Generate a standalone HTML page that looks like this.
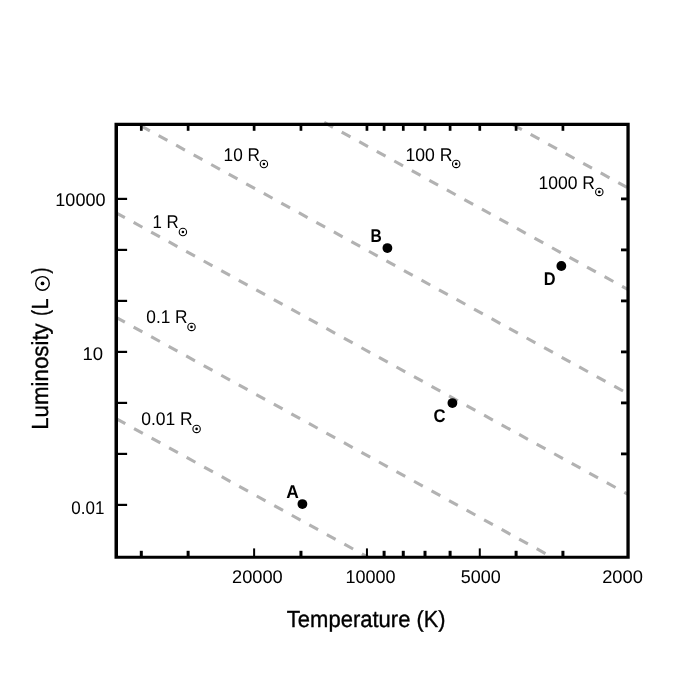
<!DOCTYPE html>
<html><head><meta charset="utf-8"><title>HR diagram</title>
<style>html,body{margin:0;padding:0;background:#fff;}body{width:700px;height:700px;overflow:hidden;}svg{display:block;will-change:transform;}text{font-family:"Liberation Sans",sans-serif;fill:#000;text-rendering:geometricPrecision;}</style>
</head><body>
<svg width="700" height="700" viewBox="0 0 700 700">
<rect width="700" height="700" fill="#fff"/>
<defs><clipPath id="c"><rect x="110.0" y="110.0" width="518.0" height="447.29999999999995"/></clipPath></defs>
<g clip-path="url(#c)" stroke="#b2b2b2" stroke-width="3.1" fill="none">
<line x1="513.10" y1="124.76" x2="669.70" y2="210.89" stroke-dasharray="10.0 10.0"/>
<line x1="324.20" y1="122.45" x2="669.70" y2="312.48" stroke-dasharray="10.0 10.0"/>
<line x1="141.10" y1="125.95" x2="669.70" y2="416.69" stroke-dasharray="10.0 10.0"/>
<line x1="116.10" y1="212.80" x2="669.70" y2="517.28" stroke-dasharray="10.0 10.0"/>
<line x1="116.10" y1="317.41" x2="669.70" y2="621.89" stroke-dasharray="10.0 10.0"/>
<line x1="116.55" y1="418.88" x2="669.70" y2="723.12" stroke-dasharray="10.0 10.0"/>
</g>
<g fill="#000">
<rect x="253.12" y="548.40" width="2.00" height="7.95"/>
<rect x="365.95" y="548.40" width="2.00" height="7.95"/>
<rect x="478.78" y="548.40" width="2.00" height="7.95"/>
<rect x="139.80" y="550.80" width="3.00" height="5.55"/>
<rect x="186.62" y="550.80" width="3.00" height="5.55"/>
<rect x="299.45" y="550.80" width="3.00" height="5.55"/>
<rect x="382.60" y="550.80" width="3.00" height="5.55"/>
<rect x="401.77" y="550.80" width="3.00" height="5.55"/>
<rect x="423.51" y="550.80" width="3.00" height="5.55"/>
<rect x="448.60" y="550.80" width="3.00" height="5.55"/>
<rect x="514.60" y="550.80" width="3.00" height="5.55"/>
<rect x="561.42" y="550.80" width="3.00" height="5.55"/>
<rect x="252.77" y="125.45" width="2.70" height="5.35"/>
<rect x="365.60" y="125.45" width="2.70" height="5.35"/>
<rect x="478.43" y="125.45" width="2.70" height="5.35"/>
<rect x="139.95" y="125.45" width="2.70" height="5.35"/>
<rect x="186.77" y="125.45" width="2.70" height="5.35"/>
<rect x="299.60" y="125.45" width="2.70" height="5.35"/>
<rect x="382.75" y="125.45" width="2.70" height="5.35"/>
<rect x="401.92" y="125.45" width="2.70" height="5.35"/>
<rect x="423.66" y="125.45" width="2.70" height="5.35"/>
<rect x="448.75" y="125.45" width="2.70" height="5.35"/>
<rect x="514.75" y="125.45" width="2.70" height="5.35"/>
<rect x="561.57" y="125.45" width="2.70" height="5.35"/>
<rect x="117.50" y="197.80" width="9.60" height="2.20"/>
<rect x="621.00" y="197.50" width="5.90" height="2.80"/>
<rect x="117.50" y="248.80" width="9.60" height="2.20"/>
<rect x="621.00" y="248.50" width="5.90" height="2.80"/>
<rect x="117.50" y="299.80" width="9.60" height="2.20"/>
<rect x="621.00" y="299.50" width="5.90" height="2.80"/>
<rect x="117.50" y="350.80" width="9.60" height="2.20"/>
<rect x="621.00" y="350.50" width="5.90" height="2.80"/>
<rect x="117.50" y="401.80" width="9.60" height="2.20"/>
<rect x="621.00" y="401.50" width="5.90" height="2.80"/>
<rect x="117.50" y="452.80" width="9.60" height="2.20"/>
<rect x="621.00" y="452.50" width="5.90" height="2.80"/>
<rect x="117.50" y="503.80" width="9.60" height="2.20"/>
<path fill-rule="evenodd" d="M114.5 122.85H629.7V558.8H114.5Z M118.0 125.95V555.85H626.4V125.95Z"/>
</g>
<circle cx="302.4" cy="504.05" r="4.9" fill="#000"/>
<text transform="translate(286.13,497.80) scale(0.9469,1)" font-size="18.4" font-weight="bold">A</text>
<circle cx="387.4" cy="248.05" r="4.9" fill="#000"/>
<text transform="translate(370.54,241.80) scale(0.8444,1)" font-size="18.4" font-weight="bold">B</text>
<circle cx="452.4" cy="403.05" r="4.9" fill="#000"/>
<text transform="translate(433.42,421.50) scale(0.9083,1)" font-size="18.4" font-weight="bold">C</text>
<circle cx="561.35" cy="266.0" r="4.9" fill="#000"/>
<text transform="translate(543.79,284.90) scale(0.8889,1)" font-size="18.4" font-weight="bold">D</text>
<text transform="translate(55.35,205.70) scale(0.9796,1)" font-size="18.4">10000</text>
<text transform="translate(82.42,359.80) scale(1.0068,1)" font-size="18.4">10</text>
<text transform="translate(71.31,514.00) scale(0.9231,1)" font-size="18.4">0.01</text>
<text transform="translate(232.03,582.80) scale(0.9899,1)" font-size="18.4">20000</text>
<text transform="translate(345.45,582.80) scale(0.9796,1)" font-size="18.4">10000</text>
<text transform="translate(460.77,582.80) scale(0.9747,1)" font-size="18.4">5000</text>
<text transform="translate(602.13,582.80) scale(0.9956,1)" font-size="18.4">2000</text>
<text transform="translate(223.62,160.80) scale(0.9338,1)" font-size="18.4">10 R</text>
<circle cx="263.90" cy="164.00" r="3.7" fill="none" stroke="#000" stroke-width="1.1"/><circle cx="263.90" cy="164.00" r="1.3" fill="#000"/>
<text transform="translate(405.49,160.80) scale(0.9561,1)" font-size="18.4">100 R</text>
<circle cx="456.20" cy="163.90" r="3.7" fill="none" stroke="#000" stroke-width="1.1"/><circle cx="456.20" cy="163.90" r="1.3" fill="#000"/>
<text transform="translate(538.59,188.90) scale(0.9509,1)" font-size="18.4">1000 R</text>
<circle cx="599.30" cy="191.90" r="3.7" fill="none" stroke="#000" stroke-width="1.1"/><circle cx="599.30" cy="191.90" r="1.3" fill="#000"/>
<text transform="translate(152.54,227.80) scale(0.9175,1)" font-size="18.4">1 R</text>
<circle cx="182.90" cy="232.00" r="3.7" fill="none" stroke="#000" stroke-width="1.1"/><circle cx="182.90" cy="232.00" r="1.3" fill="#000"/>
<text transform="translate(146.30,322.80) scale(0.9392,1)" font-size="18.4">0.1 R</text>
<circle cx="191.50" cy="326.90" r="3.7" fill="none" stroke="#000" stroke-width="1.1"/><circle cx="191.50" cy="326.90" r="1.3" fill="#000"/>
<text transform="translate(141.19,424.70) scale(0.9505,1)" font-size="18.4">0.01 R</text>
<circle cx="196.60" cy="428.90" r="3.7" fill="none" stroke="#000" stroke-width="1.1"/><circle cx="196.60" cy="428.90" r="1.3" fill="#000"/>
<text transform="translate(286.80,626.70) scale(0.9451,1)" font-size="23.3" stroke="#000" stroke-width="0.35">Temperature</text>
<text transform="translate(416.49,626.70) scale(0.9327,1)" font-size="23.3" stroke="#000" stroke-width="0.35">(K)</text>
<text transform="translate(48.20,429.82) rotate(-90) scale(0.9568,1)" font-size="23.3" stroke="#000" stroke-width="0.35">Luminosity</text>
<text transform="translate(48.20,315.85) rotate(-90) scale(0.7440,1)" font-size="23.3" stroke="#000" stroke-width="0.35">(</text>
<text transform="translate(48.20,309.29) rotate(-90) scale(0.8337,1)" font-size="23.3" stroke="#000" stroke-width="0.35">L</text>
<circle cx="42.50" cy="283.40" r="6.8" fill="none" stroke="#000" stroke-width="1.4"/><circle cx="42.50" cy="283.40" r="1.9" fill="#000"/>
<text transform="translate(48.20,273.62) rotate(-90) scale(0.7600,1)" font-size="23.3" stroke="#000" stroke-width="0.35">)</text>
</svg></body></html>
